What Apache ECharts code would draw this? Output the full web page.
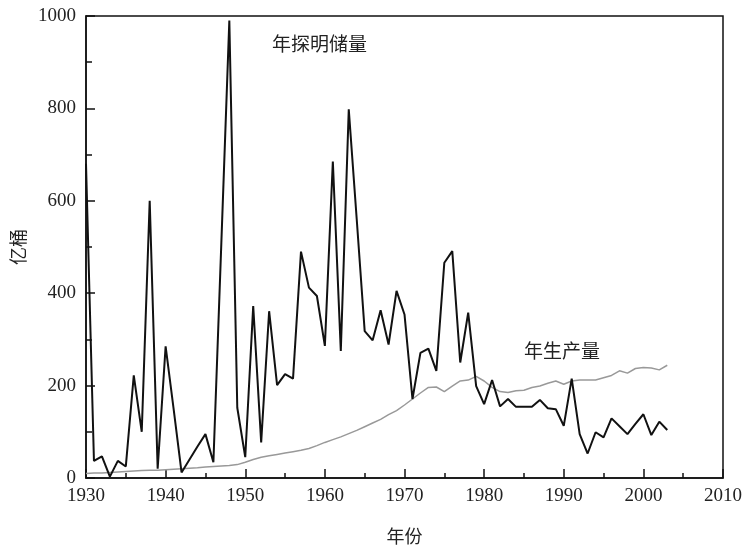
<!DOCTYPE html>
<html>
<head>
<meta charset="utf-8">
<script src="https://cdn.jsdelivr.net/npm/echarts@6/dist/echarts.min.js"></script>
<style>html,body{margin:0;padding:0;background:#fff;}#c{width:745px;height:550px;}</style>
</head>
<body>
<div id="c"></div>
<script>
const years = [1930,1931,1932,1933,1934,1935,1936,1937,1938,1939,
  1940,1941,1942,1943,1944,1945,1946,1947,1948,1949,
  1950,1951,1952,1953,1954,1955,1956,1957,1958,1959,
  1960,1961,1962,1963,1964,1965,1966,1967,1968,1969,
  1970,1971,1972,1973,1974,1975,1976,1977,1978,1979,
  1980,1981,1982,1983,1984,1985,1986,1987,1988,1989,
  1990,1991,1992,1993,1994,1995,1996,1997,1998,1999,
  2000,2001,2002,2003];
const discoveries = [680,37,47,3,37,25,222,100,600,20,
  285,150,12,40,68,95,34,510,990,152,
  45,372,77,361,201,225,215,490,412,394,
  286,685,275,798,560,318,298,363,289,405,
  354,171,271,280,232,466,491,250,358,199,
  160,212,155,171,154,154,154,169,151,149,
  113,215,95,53,99,88,129,112,95,117,
  138,93,122,104];
const production = [10,11,11,12,13,14,15,16,17,17,
  18,19,20,21,22,24,25,26,27,29,
  34,40,45,48,51,54,57,60,64,70,
  77,83,89,96,103,111,119,127,137,146,
  158,171,184,196,197,187,199,210,212,220,
  210,196,187,185,189,190,196,199,205,210,
  203,210,212,212,212,217,222,232,227,237,
  239,238,234,244];
const seriesNames = ['年探明储量','年生产量'];
const xName = '年份';
const yName = '亿桶';

const chart = echarts.init(document.getElementById('c'), null, {renderer:'canvas'});
const serif = 'Liberation Serif';
const cjk = 'Noto Sans CJK SC';
const tickStyle = {color: '#111', width: 1.5};
chart.setOption({
  animation: false,
  backgroundColor: '#fff',
  grid: {left: 86, right: 21, top: 16, bottom: 71, show: true, borderColor: '#111', borderWidth: 1.5, containLabel: false},
  xAxis: {
    type: 'value', min: 1930, max: 2010, interval: 10,
    name: xName, nameLocation: 'middle', nameGap: 49,
    nameTextStyle: {fontFamily: cjk, fontSize: 18, color: '#222'},
    axisLine: {show: true, onZero: false, lineStyle: {color: '#111', width: 1.5}},
    axisTick: {show: true, inside: true, length: 9, lineStyle: tickStyle},
    minorTick: {show: true, splitNumber: 2, length: 5, lineStyle: tickStyle},
    axisLabel: {fontFamily: serif, fontSize: 19, color: '#222', margin: 9, formatter: v => String(v)},
    splitLine: {show: false}
  },
  yAxis: {
    type: 'value', min: 0, max: 1000, interval: 200,
    name: yName, nameLocation: 'middle', nameGap: 54, nameRotate: 90,
    nameTextStyle: {fontFamily: cjk, fontSize: 18, color: '#222'},
    axisLine: {show: true, lineStyle: {color: '#111', width: 1.5}},
    axisTick: {show: true, inside: true, length: 9, lineStyle: tickStyle},
    minorTick: {show: true, splitNumber: 2, length: 6, lineStyle: tickStyle},
    axisLabel: {fontFamily: serif, fontSize: 19, color: '#222', margin: 10, formatter: v => String(v)},
    splitLine: {show: false}
  },
  series: [
    {name: seriesNames[1], type: 'line', data: years.map((y,i)=>[y, production[i]]),
     showSymbol: false, symbol: 'none', lineStyle: {color: '#999', width: 1.5}, z: 2},
    {name: seriesNames[0], type: 'line', data: years.map((y,i)=>[y, discoveries[i]]),
     showSymbol: false, symbol: 'none', lineStyle: {color: '#111', width: 2}, z: 3}
  ],
  graphic: [
    {type: 'text', left: 272, top: 34, style: {text: seriesNames[0], font: '19px "Noto Sans CJK SC"', fill: '#222'}},
    {type: 'text', left: 524, top: 341, style: {text: seriesNames[1], font: '19px "Noto Sans CJK SC"', fill: '#222'}}
  ]
});
</script>
</body>
</html>
